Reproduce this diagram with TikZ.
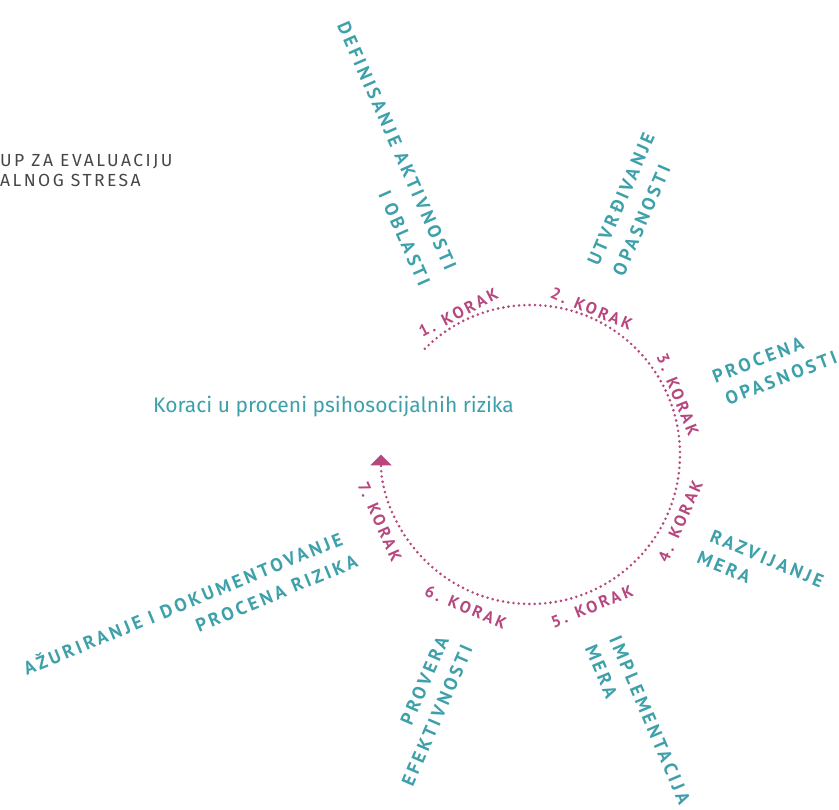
\documentclass[tikz,border=0pt]{standalone}
\usepackage{fontspec}
\setmainfont{Fira Sans}
\newfontfamily\lblfont[LetterSpace=17]{PT Sans}
\newfontfamily\grayfont[LetterSpace=14]{Fira Sans}
\usetikzlibrary{arrows.meta,calc}
\definecolor{tealc}{RGB}{62,160,170}
\definecolor{magc}{RGB}{182,72,127}
\definecolor{grayc}{RGB}{70,70,70}
\begin{document}
\begin{tikzpicture}[x=1pt,y=1pt,
  korak/.style={text=magc, font=\lblfont\bfseries\fontsize{16.5}{16.5}\selectfont, inner sep=0pt, text height=11.5pt, text depth=0pt},
  stage/.style={text=tealc, font=\lblfont\bfseries\fontsize{18.5}{18.5}\selectfont, inner sep=0pt, text height=13pt, text depth=0pt},
  dotline/.style={magc, line width=2.9pt, line cap=round, dash pattern=on 0pt off 5.3pt}
]
\useasboundingbox (0,0) rectangle (839,810);
\coordinate (C) at (530.5,355.5);
% top-left heading (clipped)
\node[anchor=base west, inner sep=0pt, text=grayc, font=\grayfont\fontsize{17.5}{17.5}\selectfont] (h1) at (0,643.5) {UP ZA EVALUACIJU};
\node[anchor=base west, inner sep=0pt, text=grayc, font=\grayfont\fontsize{17.5}{17.5}\selectfont] (h2) at (0,623) {ALNOG STRESA};
% title
\node[anchor=base west, inner sep=0pt, text=tealc, font=\fontsize{21}{21}\selectfont] (title) at (153,397) {Koraci u proceni psihosocijalnih rizika};
% dotted cycle
\coordinate (s) at ($(C)+(135:149.5)$);
\draw[dotline, -{Triangle[width=21pt,length=11pt]}] (s) arc[start angle=135, end angle=-180, radius=149.5];
% steps
\node[korak, rotate=27] (k1) at ($(C)+(117:159)$) {1. KORAK};
\node[korak, rotate=-22.7] (k2) at ($(C)+(67.3:158)$) {2. KORAK};
\node[korak, rotate=-68] (k3) at ($(C)+(22:159)$) {3. KORAK};
\node[korak, rotate=66] (k4) at ($(C)+(-24:164)$) {4. KORAK};
\node[korak, rotate=22] (k5) at ($(C)+(-68:164)$) {5. KORAK};
\node[korak, rotate=-23] (k6) at ($(C)+(-113:166)$) {6. KORAK};
\node[korak, rotate=-66] (k7) at ($(C)+(-156:165)$) {7. KORAK};
% stage labels
\node[stage, rotate=-66.2] (d1) at (397,664) {DEFINISANJE AKTIVNOSTI};
\node[stage, rotate=-66.2] (d2) at (404.5,572) {I OBLASTI};
\node[stage, rotate=66.5] (u1) at (621,611) {UTVRĐIVANJE};
\node[stage, rotate=66.5] (u2) at (641.5,589.5) {OPASNOSTI};
\node[stage, rotate=21] (p1) at (758,450) {PROCENA};
\node[stage, rotate=21] (p2) at (781,432) {OPASNOSTI};
\node[stage, rotate=-22.7] (r1) at (767,251.5) {RAZVIJANJE};
\node[stage, rotate=-22.7] (r2) at (724,242.5) {MERA};
\node[stage, rotate=-67] (i1) at (650,90) {IMPLEMENTACIJA};
\node[stage, rotate=-67] (i2) at (601.5,138.5) {MERA};
\node[stage, rotate=66.5] (v1) at (424.5,129.5) {PROVERA};
\node[stage, rotate=66.5] (v2) at (437,94.5) {EFEKTIVNOSTI};
\node[stage, rotate=22.5] (a1) at (183,206) {AŽURIRANJE I DOKUMENTOVANJE};
\node[stage, rotate=22.5] (a2) at (276.5,216.5) {PROCENA RIZIKA};
\end{tikzpicture}
\end{document}
